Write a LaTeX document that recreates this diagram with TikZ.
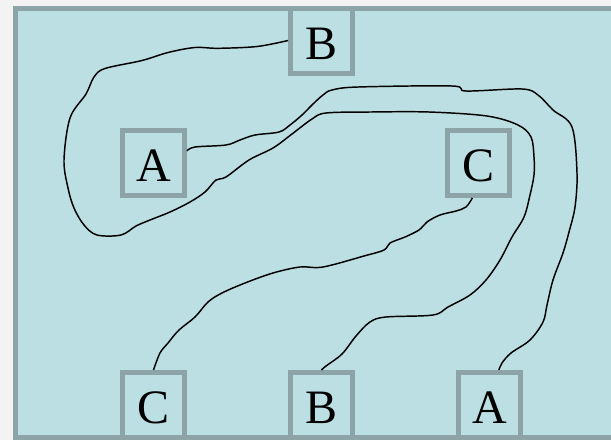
\documentclass[tikz,border=0pt]{standalone}
\usepackage{fontspec}
\setmainfont{Liberation Serif}
\usepackage{tikz}
\definecolor{pagebg}{HTML}{F3F3F3}
\definecolor{panelbg}{HTML}{BBDFE3}
\definecolor{framegrey}{HTML}{8CA4A7}

\begin{document}
\begin{tikzpicture}[x=0.75pt, y=-0.75pt,
  letterbox/.style={draw=framegrey, line width=3.75pt, fill=panelbg, minimum width=46.5pt, minimum height=48.75pt, inner sep=0pt, text height=28pt, text depth=0pt, font=\fontsize{36}{40}\selectfont},
  strand/.style={line width=1.1pt, black, smooth, tension=0.55}]
  \useasboundingbox (0,0) rectangle (611,440);
  \fill[pagebg] (0,0) rectangle (611,440);
  \clip (0,0) rectangle (611,440);
  \draw[draw=framegrey, line width=3.75pt, fill=panelbg] (15.5,8) rectangle (640,437.5);

  % top row and middle row
  \node[letterbox] (btop) at (321.5,40.5) {B};
  \node[letterbox] (aleft) at (153.5,163) {A};
  \node[letterbox] (cright) at (478.5,163) {C};
  % bottom row
  \node[letterbox] (cbot) at (153.5,405) {C};
  \node[letterbox] (bbot) at (321.5,405) {B};
  \node[letterbox] (abot) at (489.5,405) {A};

  \draw[strand] plot coordinates {(btop.west) (257,46.5) (218,48.3) (195,47.5) (168,52.5) (142,60.5) (105,68.5) (94,77) (86,94) (70,118) (64,160) (68,188) (74,208) (84,225) (97,235) (121,235) (136,226) (150,220) (170,212) (190,202) (205,192) (216,180) (226,177) (249,160) (273,148) (292,134) (312,119) (326,113) (370,112) (429,112) (487,116) (518,125) (531,137) (534,157) (534,175) (530,195) (524,217) (512,237) (500,260) (486,280) (470,295) (448,307) (433,315) (386,317) (370,322) (356,336) (342,354) (326,366) (bbot.north)};
  \draw[strand] plot coordinates {(aleft.20) (195,147) (226,145) (240,140) (255,135) (279,132) (290,125) (302,115) (313,104) (323,95) (332,90) (358,87) (452,86) (466,91) (522,89) (538,95) (553,110) (572,127) (577,173) (575,207) (569,232) (563,253) (553,280) (547,305) (543,322) (530,340) (511,353) (502,363) (abot.75)};
  \draw[strand] plot coordinates {(cright.-100) (466,207) (456,211) (440,215) (427,222) (419,230) (405,237) (390,243) (384,250) (364,256) (323,267) (300,267) (273,273) (245,283) (222,293) (208,302) (195,317) (179,330) (168,343) (160,353) (cbot.north)};
\end{tikzpicture}
\end{document}
